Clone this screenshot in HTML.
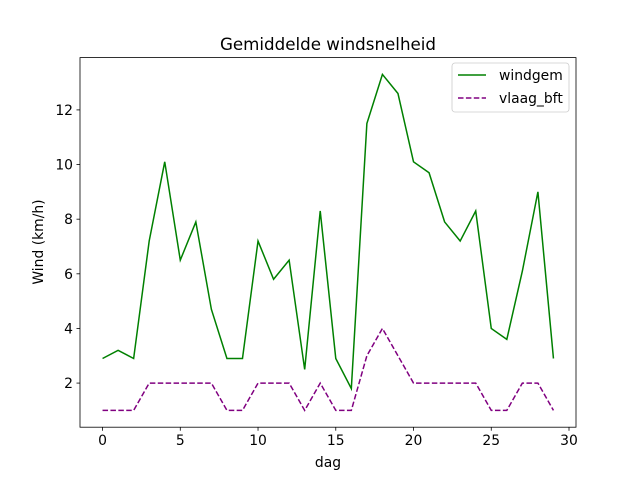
<!DOCTYPE html>
<html><head><meta charset="utf-8"><style>
body{margin:0;background:#fff;}
svg text{font-family:"DejaVu Sans","Liberation Sans",sans-serif;fill:#000;}
</style></head><body>
<svg id="chart" width="640" height="480" xmlns="http://www.w3.org/2000/svg">
<rect x="0" y="0" width="640" height="480" fill="#fff"/>
<text x="328" y="50" font-size="16.7" text-anchor="middle">Gemiddelde windsnelheid</text>
<g id="xt"></g><g id="yt"></g><g id="lines"></g>
<rect x="80" y="57.6" width="496" height="369.6" fill="none" stroke="#000" stroke-width="0.8"/>
<text x="328" y="467" font-size="13.9" text-anchor="middle">dag</text>
<text x="43" y="242" font-size="13.9" text-anchor="middle" transform="rotate(-90 43 242)">Wind (km/h)</text>
<g>
<rect x="452" y="63" width="117" height="49" fill="#fff" stroke="#ccc" stroke-width="0.8" rx="3"/>
<line x1="458" y1="75" x2="486" y2="75" stroke="green" stroke-width="1.5"/>
<text x="499" y="80" font-size="13.9">windgem</text>
<line x1="458" y1="98" x2="486" y2="98" stroke="purple" stroke-width="1.5" stroke-dasharray="5.5,2.4"/>
<text x="499" y="103" font-size="13.9">vlaag_bft</text>
</g>
</svg>
<script>
const days=[0,1,2,3,4,5,6,7,8,9,10,11,12,13,14,15,16,17,18,19,20,21,22,23,24,25,26,27,28,29];
const windgem=[2.9,3.2,2.9,7.2,10.1,6.5,7.9,4.7,2.9,2.9,7.2,5.8,6.5,2.5,8.3,2.9,1.8,11.5,13.3,12.6,10.1,9.7,7.9,7.2,8.3,4.0,3.6,6.1,9.0,2.9];
const vlaag=[1,1,1,2,2,2,2,2,1,1,2,2,2,1,2,1,1,3,4,3,2,2,2,2,2,1,1,2,2,1];
const xTicks=[0,5,10,15,20,25,30];
const yTicks=[2,4,6,8,10,12];
const L=80,R=576,T=57.6,B=427.2;
const xmin=-1.45,xmax=30.45;
const all=windgem.concat(vlaag);const dmin=Math.min(...all),dmax=Math.max(...all),m=(dmax-dmin)*0.05;
const ymin=dmin-m,ymax=dmax+m;
const X=v=>L+(v-xmin)/(xmax-xmin)*(R-L);
const Y=v=>B-(v-ymin)/(ymax-ymin)*(B-T);
const NS='http://www.w3.org/2000/svg';
function mk(t,a,p){const e=document.createElementNS(NS,t);for(const k in a)e.setAttribute(k,a[k]);p.appendChild(e);return e;}
const xt=document.getElementById('xt'),yt=document.getElementById('yt'),lg=document.getElementById('lines');
xTicks.forEach(v=>{const x=X(v);
const l=mk('line',{x1:x,x2:x,y1:B,y2:B+3.5,stroke:'#000','stroke-width':0.8},xt);


const t=mk('text',{x:x,y:B+18,'font-size':13.9,'text-anchor':'middle'},xt);t.textContent=v;

});
yTicks.forEach(v=>{const y=Y(v);
const l=mk('line',{x1:L-3.5,x2:L,y1:y,y2:y,stroke:'#000','stroke-width':0.8},yt);


const t=mk('text',{x:L-7,y:y+5,'font-size':13.9,'text-anchor':'end'},yt);t.textContent=v;

});
const p1=mk('polyline',{points:days.map((d,i)=>X(d)+','+Y(windgem[i])).join(' '),fill:'none',stroke:'green','stroke-width':1.5},lg);


const p2=mk('polyline',{points:days.map((d,i)=>X(d)+','+Y(vlaag[i])).join(' '),fill:'none',stroke:'purple','stroke-width':1.5,'stroke-dasharray':'5.5,2.4'},lg);


</script>
</body></html>
